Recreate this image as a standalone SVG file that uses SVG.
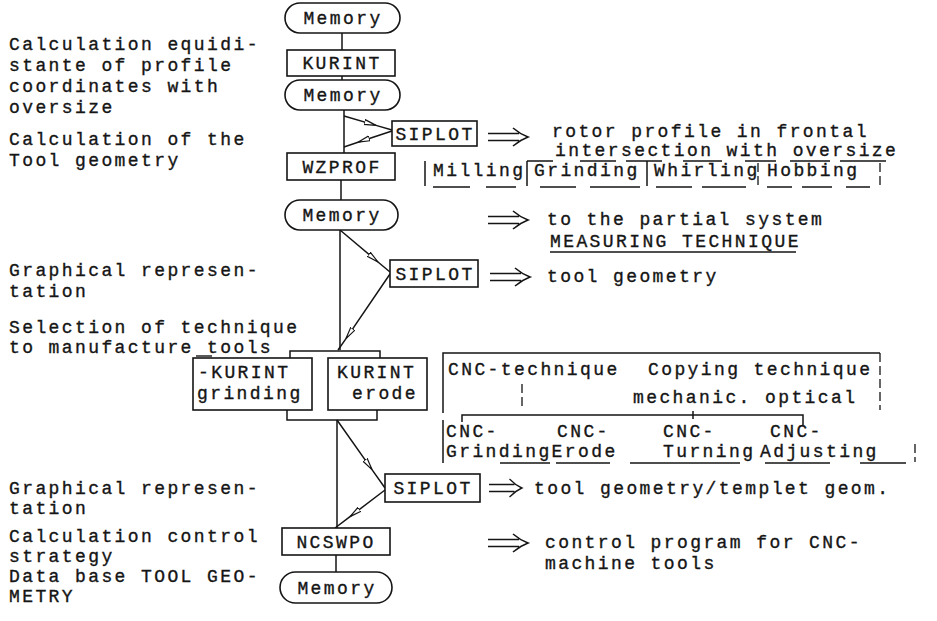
<svg xmlns="http://www.w3.org/2000/svg" width="937" height="621" viewBox="0 0 937 621">
<style>
text{font-family:"Liberation Mono","DejaVu Sans Mono",monospace;font-size:18px;letter-spacing:2.4px;fill:#151515;stroke:#151515;stroke-width:0.35}
.c{text-anchor:middle}
.b{fill:#fff;stroke:#151515;stroke-width:1.6}
.l{fill:none;stroke:#151515;stroke-width:1.5}
.d{fill:none;stroke:#151515;stroke-width:1.3;stroke-dasharray:9 4}
.u{fill:none;stroke:#151515;stroke-width:1.4}
</style>
<defs>
<marker id="ah" viewBox="0 0 14 8" refX="12" refY="4" markerWidth="14" markerHeight="8" markerUnits="userSpaceOnUse" orient="auto">
<path d="M0,1.5 L12,4 L0,6.5 Z" fill="#fff" stroke="#151515" stroke-width="1.2"/>
</marker>
<g id="dbl"><path d="M0,-3.5 H31 M0,3.5 H31 M25,-9 Q32,-3 40,0 Q32,3 25,9" fill="none" stroke="#151515" stroke-width="1.6"/></g>
</defs>
<rect width="937" height="621" fill="#fff"/>

<g id="labels">
<text x="9" y="50">Calculation equidi-</text>
<text x="9" y="71">stante of profile</text>
<text x="9" y="92">coordinates with</text>
<text x="9" y="113">oversize</text>
<text x="9" y="145">Calculation of the</text>
<text x="9" y="166">Tool geometry</text>
<text x="9" y="276">Graphical represen-</text>
<text x="9" y="297">tation</text>
<text x="9" y="333">Selection of technique</text>
<text x="9" y="353">to manufacture tools</text>
<path class="u" d="M196,356 H212"/>
<text x="9" y="494">Graphical represen-</text>
<text x="9" y="514">tation</text>
<text x="9" y="542">Calculation control</text>
<text x="9" y="562">strategy</text>
<text x="9" y="582">Data base TOOL GEO-</text>
<text x="9" y="602">METRY</text>
</g>

<g id="connectors">
<path class="l" d="M342,33 V50 M342,76 V80 M344,110 V153 M341,180 V200 M340,230 V350 M337,420 V528 M336,555 V572"/>
<path class="l" d="M344,116 L376,125.4 L392,130" marker-mid="url(#ah)"/>
<path class="l" d="M392,131 L358,142.2 L344,147" marker-mid="url(#ah)"/>
<path class="l" d="M340,230 L378,262 L390,272" marker-mid="url(#ah)"/>
<path class="l" d="M390,274 L346,338.6 L338,350" marker-mid="url(#ah)"/>
<path class="l" d="M337,420 L372,469.6 L385,488" marker-mid="url(#ah)"/>
<path class="l" d="M385,490 L350,516.6 L335,528" marker-mid="url(#ah)"/>
<path class="l" d="M290,358 V351 H380 V358"/>
<path class="l" d="M287,410 V420 H377 V410"/>
<use href="#dbl" x="488" y="137"/>
<use href="#dbl" x="488" y="220"/>
<use href="#dbl" x="490" y="277"/>
<use href="#dbl" transform="translate(489,488) scale(0.82,1)"/>
<use href="#dbl" x="488" y="543"/>
</g>

<g id="node-memory1"><rect class="b" x="285" y="3" width="115" height="30" rx="15"/><text class="c" x="343" y="24">Memory</text></g>
<g id="node-kurint"><rect class="b" x="287" y="50" width="108" height="26"/><text class="c" x="342" y="69">KURINT</text></g>
<g id="node-memory2"><rect class="b" x="285" y="80" width="115" height="30" rx="15"/><text class="c" x="343" y="101">Memory</text></g>
<g id="node-siplot1"><rect class="b" x="392" y="121" width="85" height="25"/><text class="c" x="435" y="140">SIPLOT</text></g>
<g id="node-wzprof"><rect class="b" x="287" y="153" width="108" height="27"/><text class="c" x="342" y="173">WZPROF</text></g>
<g id="node-memory3"><rect class="b" x="285" y="200" width="113" height="30" rx="15"/><text class="c" x="342" y="221">Memory</text></g>
<g id="node-siplot2"><rect class="b" x="390" y="260" width="88" height="27"/><text class="c" x="435" y="280">SIPLOT</text></g>
<g id="node-kurint-grinding"><rect class="b" x="193" y="358" width="119" height="52"/><text x="198" y="378">-KURINT</text><text x="197" y="399">grinding</text></g>
<g id="node-kurint-erode"><rect class="b" x="328" y="358" width="99" height="52"/><text x="337" y="378">KURINT</text><text x="352" y="399">erode</text></g>
<g id="node-cnc">
<path class="l" d="M443,413 V353 H880"/>
<path class="d" d="M880,353 V410 M522,384 V410"/>
<text x="448" y="375">CNC-technique</text>
<text x="648" y="375">Copying technique</text>
<text x="633" y="403">mechanic. optical</text>
</g>
<g id="node-cnc-sub">
<path class="l" d="M462,422 V415 H803 V425 M693,411 V419 M443,420 V463"/>
<path class="d" d="M915,444 V462"/>
<text x="446" y="437">CNC-</text>
<text x="557" y="437">CNC-</text>
<text x="663" y="437">CNC-</text>
<text x="770" y="437">CNC-</text>
<text x="446" y="457">GrindingErode</text>
<text x="663" y="457">Turning</text>
<text x="760" y="457">Adjusting</text>
<path class="u" d="M500,463 H550 M556,463 H610 M630,463 H740 M765,463 H830 M860,463 H906"/>
</g>
<g id="node-siplot3"><rect class="b" x="385" y="474" width="95" height="28"/><text class="c" x="433" y="494">SIPLOT</text></g>
<g id="node-ncswpo"><rect class="b" x="282" y="528" width="108" height="27"/><text class="c" x="336" y="548">NCSWPO</text></g>
<g id="node-memory4"><rect class="b" x="280" y="572" width="112" height="31" rx="15.5"/><text class="c" x="337" y="594">Memory</text></g>

<g id="node-rotor">
<text x="552" y="137">rotor profile in frontal</text>
<text x="555" y="156">intersection with oversize</text>
<path class="u" d="M527,161 H553 M580,161 H616 M626,161 H662 M683,161 H722 M745,161 H776 M790,161 H830 M840,161 H886"/>
</g>
<g id="node-methods">
<path class="l" d="M425,161 V186 M527,161 V186 M647,161 V186"/>
<path class="d" d="M758,163 V185 M880,163 V186"/>
<text x="433" y="176">Milling</text>
<text x="534" y="176">Grinding</text>
<text x="654" y="176">Whirling</text>
<text x="767" y="176">Hobbing</text>
<path class="u" d="M433,187 H470 M486,187 H516 M540,187 H576 M590,187 H640 M656,187 H692 M702,187 H746 M767,187 H792 M802,187 H832 M846,187 H870"/>
</g>
<g id="node-measuring">
<text x="547" y="225">to the partial system</text>
<text x="550" y="247">MEASURING TECHNIQUE</text>
<path class="u" d="M550,252 H796"/>
</g>
<text x="547" y="282">tool geometry</text>
<text x="534" y="494">tool geometry/templet geom.</text>
<text x="545" y="548">control program for CNC-</text>
<text x="545" y="569">machine tools</text>
</svg>
